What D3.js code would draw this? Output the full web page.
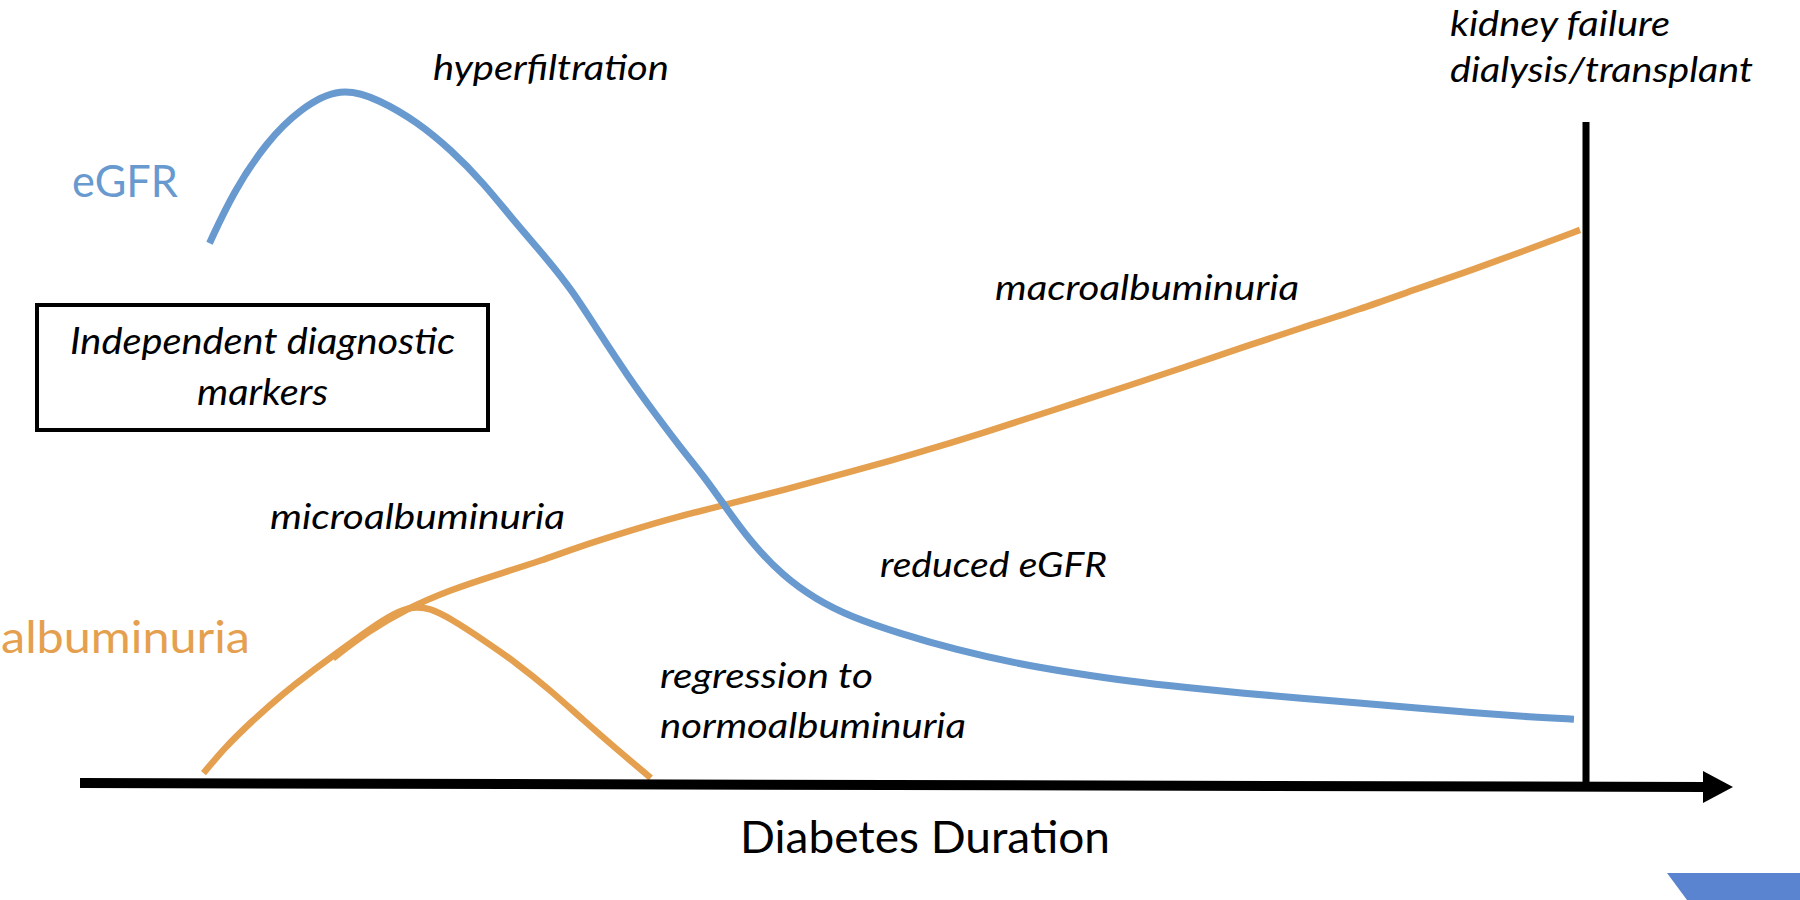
<!DOCTYPE html>
<html>
<head>
<meta charset="utf-8">
<script src="https://cdn.jsdelivr.net/npm/d3@7"></script>
<style>
  html, body { margin: 0; padding: 0; background: #ffffff; }
  svg { display: block; }
</style>
</head>
<body>
<svg id="chart" width="1800" height="900"></svg>
<script>
// ---------------- DATA (duration units 0-100, level units 0-100) ----------------
const egfrDuration = [8.6, 10.2, 12.4, 14.6, 17.3, 19.9, 22.4, 24.6, 26.8, 28.8, 31.0, 32.7, 34.3, 36.5, 38.2, 39.8, 41.5, 42.8, 44.5, 46.7, 48.9, 51.1, 54.5, 58.2, 62.1, 65.9, 69.7, 73.5, 77.3, 81.1, 84.9, 88.8, 92.6, 96.4, 99.2];
const egfrLevel    = [77.4, 84.8, 91.9, 96.6, 99.8, 97.9, 94.7, 90.8, 86.0, 80.6, 75.2, 70.6, 65.2, 58.0, 53.0, 48.4, 43.9, 39.9, 34.8, 29.8, 26.5, 24.1, 21.6, 19.3, 17.4, 16.0, 14.8, 13.9, 13.1, 12.4, 11.7, 11.0, 10.3, 9.7, 9.4];

const normoDuration = [8.2, 9.6, 11.3, 13.5, 15.3, 17.1, 19.1, 20.9, 22.1, 23.2, 24.6, 26.8, 29.0, 31.2, 33.4, 35.7, 37.9];
const normoLevel    = [1.7, 5.3, 8.9, 13.1, 16.1, 18.9, 22.1, 24.6, 25.5, 25.3, 23.8, 20.7, 17.4, 13.6, 9.3, 5.0, 1.0];

const macroDuration = [16.8, 19.1, 21.6, 24.6, 27.9, 30.7, 32.8, 36.6, 39.8, 42.8, 46.7, 51.1, 55.6, 60.0, 64.4, 69.7, 73.5, 77.3, 81.1, 84.9, 88.8, 92.6, 96.4, 99.6];
const macroLevel    = [18.1, 21.9, 25.1, 27.9, 30.2, 32.1, 33.8, 36.4, 38.4, 40.0, 42.1, 44.7, 47.4, 50.3, 53.4, 57.1, 59.8, 62.6, 65.3, 67.9, 70.9, 73.7, 76.7, 79.3];

const kidneyFailureDuration = [100];

const seriesNames = ["eGFR", "albuminuria"];
const axisTitle = "Diabetes Duration";
const boxLines = ["Independent diagnostic", "markers"];
const stageLabels = ["hyperfiltration", "kidney failure", "dialysis/transplant", "macroalbuminuria", "microalbuminuria", "reduced eGFR", "regression to", "normoalbuminuria"];

// ---------------- LAYOUT / STYLE ----------------
const BLUE = "#6899cf";
const ORANGE = "#e5a04f";
const FONT = "Lato, 'Open Sans', sans-serif";

const svg = d3.select("#chart");
const x = d3.scaleLinear().domain([0, 100]).range([80, 1586]);
const y = d3.scaleLinear().domain([0, 100]).range([785, 85]);

const line = d3.line()
  .x(d => x(d[0]))
  .y(d => y(d[1]))
  .curve(d3.curveBasis);

const zip = (a, b) => a.map((v, i) => [v, b[i]]);

// curves
svg.append("path").datum(zip(normoDuration, normoLevel))
  .attr("d", line).attr("fill", "none").attr("stroke", ORANGE)
  .attr("stroke-width", 6.5).attr("stroke-linecap", "butt");

svg.append("path").datum(zip(macroDuration, macroLevel))
  .attr("d", line).attr("fill", "none").attr("stroke", ORANGE)
  .attr("stroke-width", 6.5).attr("stroke-linecap", "butt");

svg.append("path").datum(zip(egfrDuration, egfrLevel))
  .attr("d", line).attr("fill", "none").attr("stroke", BLUE)
  .attr("stroke-width", 7).attr("stroke-linecap", "butt");

// kidney failure vertical line
svg.selectAll("line.kf").data(kidneyFailureDuration).enter().append("line")
  .attr("class", "kf")
  .attr("x1", d => x(d)).attr("x2", d => x(d))
  .attr("y1", 122).attr("y2", 787)
  .attr("stroke", "#000").attr("stroke-width", 7);

// x axis with arrow
const axisStart = x.range()[0];
const axisEnd = 1706;
svg.append("line")
  .attr("x1", axisStart).attr("y1", 783)
  .attr("x2", axisEnd).attr("y2", 787)
  .attr("stroke", "#000").attr("stroke-width", 10);
svg.append("path")
  .attr("d", `M${axisEnd - 3},771 L1733,787 L${axisEnd - 3},803 Z`)
  .attr("fill", "#000");

// axis title
svg.append("text").text(axisTitle)
  .attr("x", 925).attr("y", 853).attr("text-anchor", "middle")
  .attr("font-family", FONT).attr("font-size", 45).attr("fill", "#000")
  .attr("textLength", 370).attr("lengthAdjust", "spacingAndGlyphs");

// series names
svg.append("text").text(seriesNames[0])
  .attr("x", 72).attr("y", 197)
  .attr("font-family", FONT).attr("font-size", 44).attr("fill", BLUE)
  .attr("textLength", 106).attr("lengthAdjust", "spacingAndGlyphs");
svg.append("text").text(seriesNames[1])
  .attr("x", 1).attr("y", 653)
  .attr("font-family", FONT).attr("font-size", 44).attr("fill", ORANGE)
  .attr("textLength", 249).attr("lengthAdjust", "spacingAndGlyphs");

// box
svg.append("rect")
  .attr("x", 37).attr("y", 305).attr("width", 451).attr("height", 125)
  .attr("fill", "none").attr("stroke", "#000").attr("stroke-width", 4);
const boxWidths = [385, 131];
const boxBaselines = [354, 405];
boxLines.forEach((t, i) => {
  svg.append("text").text(t)
    .attr("x", 262.5).attr("y", boxBaselines[i]).attr("text-anchor", "middle")
    .attr("font-family", FONT).attr("font-style", "italic").attr("font-size", 37)
    .attr("fill", "#000")
    .attr("textLength", boxWidths[i]).attr("lengthAdjust", "spacingAndGlyphs");
});

// stage labels (left x, baseline y, width in px, font size)
const stagePos = [
  [433, 80, 236, 35],
  [1450, 36, 220, 34],
  [1450, 82, 303, 35],
  [995, 300, 304, 35],
  [270, 529, 295, 35],
  [880, 577, 227, 35],
  [660, 688, 213, 35],
  [660, 738, 306, 35]
];
stageLabels.forEach((t, i) => {
  const p = stagePos[i];
  svg.append("text").text(t)
    .attr("x", p[0]).attr("y", p[1])
    .attr("font-family", FONT).attr("font-style", "italic").attr("font-size", p[3])
    .attr("fill", "#000")
    .attr("textLength", p[2]).attr("lengthAdjust", "spacingAndGlyphs");
});

// corner logo fragment
svg.append("path")
  .attr("d", "M1667,873 L1800,873 L1800,900 L1687,900 Z")
  .attr("fill", "#5b84d0");
</script>
</body>
</html>
